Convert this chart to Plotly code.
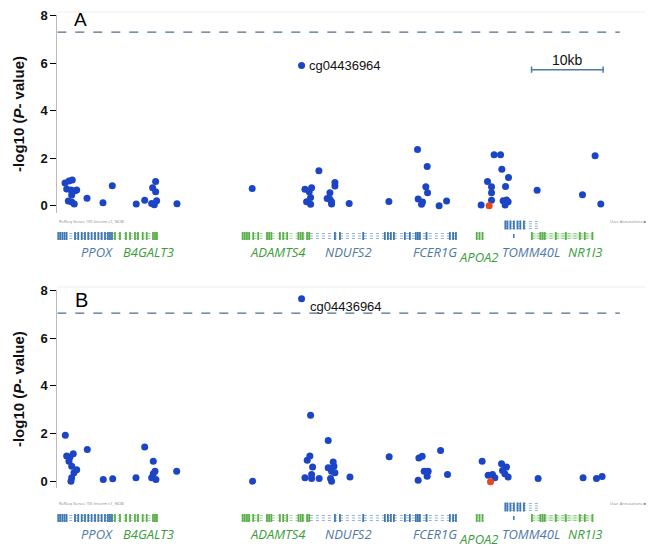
import plotly.graph_objects as go

# ---------------- data (position in kb, -log10 P) ----------------
a_x = [1.08, 1.63, 2.09, 1.31, 1.91, 2.47, 2.71, 2.01, 1.54, 2.01, 2.37, 4.15, 7.68, 6.38,
       11.03, 12.21, 13.74, 13.32, 13.74, 13.18, 13.55, 13.88, 16.72, 27.23, 34.13, 36.55,
       34.60, 35.53, 35.20, 35.39, 34.83, 35.39, 38.79, 38.79, 38.09, 37.71, 38.09, 38.32,
       38.32, 40.78, 46.33, 50.33, 51.68, 51.49, 51.73, 50.42, 51.03, 50.89, 53.35, 54.39,
       61.03, 61.93, 62.11, 63.04, 60.11, 60.67, 62.63, 60.67, 60.67, 62.29, 62.77, 62.99,
       62.57, 59.22, 67.04, 75.14, 73.38, 75.94]
a_y = [0.96, 1.04, 1.08, 0.70, 0.66, 0.63, 0.66, 0.45, 0.20, 0.16, 0.07, 0.32, 0.84, 0.13,
       0.07, 0.23, 1.02, 0.76, 0.59, 0.10, 0.04, 0.21, 0.08, 0.73, 5.90, 1.47,
       0.69, 0.76, 0.59, 0.35, 0.17, 0.06, 0.98, 0.83, 0.55, 0.31, 0.27, 0.17,
       0.07, 0.10, 0.18, 2.37, 1.65, 0.80, 0.55, 0.28, 0.16, 0.06, 0.00, 0.20,
       2.14, 2.14, 1.54, 1.19, 1.02, 0.80, 0.81, 0.55, 0.23, 0.21, 0.24, 0.17,
       0.03, 0.03, 0.65, 2.10, 0.46, 0.07]
a_red_x = [60.34]
a_red_y = [0.00]

b_x = [1.12, 1.31, 1.77, 2.23, 1.63, 2.01, 2.71, 2.33, 2.01, 1.91, 4.19, 6.42, 7.74, 10.99,
       12.21, 13.41, 13.65, 13.41, 13.18, 13.78, 16.68, 27.29, 34.13, 35.39, 35.29, 34.92,
       35.67, 35.53, 34.60, 35.53, 36.59, 37.85, 37.85, 38.55, 38.65, 38.32, 38.79, 38.18,
       38.32, 40.89, 46.37, 50.52, 50.98, 53.55, 51.26, 51.82, 51.68, 50.42, 54.52, 59.36,
       62.07, 62.77, 62.21, 62.53, 62.99, 60.20, 60.81, 61.13, 67.18, 73.46, 75.33, 76.12]
b_y = [1.93, 1.05, 1.01, 1.15, 0.84, 0.63, 0.48, 0.35, 0.14, 0.00, 1.33, 0.07, 0.10, 0.14,
       1.43, 0.84, 0.42, 0.31, 0.14, 0.07, 0.42, 0.00, 7.65, 2.77, 1.05, 0.88,
       0.59, 0.28, 0.14, 0.11, 0.11, 1.71, 0.56, 0.80, 0.63, 0.42, 0.35, 0.11,
       0.00, 0.17, 1.02, 0.97, 1.04, 1.29, 0.42, 0.42, 0.21, 0.04, 0.28, 0.84,
       0.73, 0.59, 0.45, 0.31, 0.17, 0.25, 0.28, 0.14, 0.11, 0.14, 0.11, 0.20]
b_red_x = [60.53]
b_red_y = [-0.03]

thresholds = [7.3, 7.05]
top_probe = "cg04436964"
top_probe_x = [34.13, 34.13]
top_probe_y = [5.90, 7.65]
y_ticks = [0, 2, 4, 6, 8]
scale_bar_kb = [66.26, 76.26]

# gene models (kb)
gene_names = ["PPOX", "B4GALT3", "ADAMTS4", "NDUFS2", "FCER1G", "APOA2", "TOMM40L", "NR1I3"]
gene_kind = ["b", "g", "g", "b", "b", "g", "b", "g"]
gene_start = [0.0, 7.6, 25.75, 35.29, 51.07, 58.5, 62.53, 66.26]
gene_end = [7.8, 14.1, 35.29, 51.07, 55.8, 59.6, 67.42, 74.86]
gene_exons = [
    [0.1, 0.4, 0.7, 1.0, 1.3, 2.47, 2.93, 3.41, 3.87, 4.33, 4.80, 5.27, 5.73, 6.20, 6.66, 7.08, 7.36, 7.64],
    [8.06, 8.76, 9.6, 10.16, 10.85, 11.27, 11.93, 12.49, 13.37, 13.65, 13.92],
    [25.9, 26.2, 26.5, 26.8, 27.37, 28.07, 29.3, 29.6, 29.9, 31.1, 31.56, 32.12, 33.7, 34.0, 34.3, 34.9, 35.2],
    [38.79, 39.49, 42.74, 45.77, 46.19, 46.61, 47.03, 48.56, 49.26, 50.1, 50.38, 50.66],
    [51.59, 54.85, 55.3, 55.7],
    [58.6, 59.0, 59.4],
    [62.6, 62.9, 63.3, 63.8, 64.3, 64.7, 65.2],
    [66.3, 67.5, 67.8, 68.1, 69.65, 71.05, 73.0, 73.7, 74.77],
]
gene_label_x = [5.55, 12.8, 30.82, 40.74, 52.75, 58.9, 66.16, 73.7]
gene_label_low = [False, False, False, False, False, True, False, False]
gene_stacked = [False, False, False, False, False, False, True, False]

# ---------------- styling ----------------
BLUE_PT = "#1c45c6"
RED_PT = "#e4481c"
GENE_COL = {"b": "#3d78b4", "g": "#5ab04a"}
LABEL_COL = {"b": "#4f78a8", "g": "#3a9c3a"}
DASH_COL = "#4d6f90"
X_RANGE = [0, 78.9]
X_DOMAIN = [57.3 / 649, 622 / 649]

H = 547.0
def pdom(top_px, bot_px):
    return [1 - bot_px / H, 1 - top_px / H]

fig = go.Figure()

panels = [
    dict(x=a_x, y=a_y, rx=a_red_x, ry=a_red_y, xa="x", ya="y", gx="x2", gy="y2",
         dom=pdom(15, 212.9), gdom=pdom(215, 265), thr=thresholds[0],
         px=top_probe_x[0], py=top_probe_y[0]),
    dict(x=b_x, y=b_y, rx=b_red_x, ry=b_red_y, xa="x3", ya="y3", gx="x4", gy="y4",
         dom=pdom(290, 488.3), gdom=pdom(497, 547), thr=thresholds[1],
         px=top_probe_x[1], py=top_probe_y[1]),
]

annotations = []
shapes = []

for k, p in enumerate(panels):
    fig.add_trace(go.Scatter(x=[0, 78.6], y=[p["thr"], p["thr"]], mode="lines",
                             line=dict(color=DASH_COL, width=1.2, dash="dash"),
                             xaxis=p["xa"], yaxis=p["ya"], hoverinfo="skip", showlegend=False))
    fig.add_trace(go.Scatter(x=p["x"], y=p["y"], mode="markers",
                             marker=dict(color=BLUE_PT, size=7),
                             xaxis=p["xa"], yaxis=p["ya"], showlegend=False))
    fig.add_trace(go.Scatter(x=p["rx"], y=p["ry"], mode="markers",
                             marker=dict(color=RED_PT, size=7),
                             xaxis=p["xa"], yaxis=p["ya"], showlegend=False))
    if k == 0:
        annotations.append(dict(x=p["px"] + 0.75, y=p["py"], xref=p["xa"], yref=p["ya"],
                                text=top_probe, showarrow=False, xanchor="left",
                                font=dict(size=13, family="Liberation Sans", color="#111")))
    else:
        annotations.append(dict(x=p["px"] + 0.85, y=p["thr"] + 0.28, xref=p["xa"], yref=p["ya"],
                                text=top_probe, showarrow=False, xanchor="left",
                                font=dict(size=13, family="Liberation Sans", color="#111")))

    for i, name in enumerate(gene_names):
        col = GENE_COL[gene_kind[i]]
        cy = 40 if gene_stacked[i] else 29
        rows = [cy - 3.5, cy - 1.2, cy + 1.2, cy + 3.5] if gene_stacked[i] else [cy - 2.5, cy, cy + 2.5]
        if name == "NR1I3":
            fig.add_trace(go.Scatter(x=[gene_start[i], gene_end[i], gene_end[i], gene_start[i], gene_start[i]],
                                     y=[cy - 3, cy - 3, cy + 3, cy + 3, cy - 3], mode="lines",
                                     fill="toself", fillcolor="rgba(120,180,100,0.22)",
                                     line=dict(width=0), xaxis=p["gx"], yaxis=p["gy"],
                                     hoverinfo="skip", showlegend=False))
        lx, ly = [], []
        for r in rows:
            lx += [gene_start[i], gene_end[i], None]
            ly += [r, r, None]
        fig.add_trace(go.Scatter(x=lx, y=ly, mode="lines",
                                 line=dict(color=col, width=0.7, dash="dot"), opacity=0.8,
                                 xaxis=p["gx"], yaxis=p["gy"], hoverinfo="skip", showlegend=False))
        ex, ey = [], []
        h = 4.5 if gene_stacked[i] else 4
        for e in gene_exons[i]:
            ex += [e, e, None]
            ey += [cy - h, cy + h, None]
        fig.add_trace(go.Scatter(x=ex, y=ey, mode="lines", line=dict(color=col, width=1.8),
                                 xaxis=p["gx"], yaxis=p["gy"], hoverinfo="skip", showlegend=False))
        annotations.append(dict(x=gene_label_x[i], y=8.5 if gene_label_low[i] else 13.5,
                                xref=p["gx"], yref=p["gy"], text="<i>%s</i>" % name,
                                showarrow=False, font=dict(size=13, family="Open Sans",
                                                           color=LABEL_COL[gene_kind[i]])))
    fig.add_trace(go.Scatter(x=[63.78, 63.78], y=[27, 31], mode="lines",
                             line=dict(color=GENE_COL["b"], width=1.5),
                             xaxis=p["gx"], yaxis=p["gy"], hoverinfo="skip", showlegend=False))
    annotations.append(dict(x=0, y=44, xref=p["gx"], yref=p["gy"], xanchor="left",
                            text="RefSeq Genes 105 Interim v1, NCBI", showarrow=False,
                            font=dict(size=4, color="#888")))
    annotations.append(dict(x=77.0, y=44, xref=p["gx"], yref=p["gy"], xanchor="left",
                            text="User Annotations \u25a0", showarrow=False,
                            font=dict(size=4, color="#888")))

sb_y = 5.72
fig.add_trace(go.Scatter(x=[scale_bar_kb[0], scale_bar_kb[1], None, scale_bar_kb[0], scale_bar_kb[0], None,
                            scale_bar_kb[1], scale_bar_kb[1]],
                         y=[sb_y, sb_y, None, sb_y - 0.13, sb_y + 0.13, None, sb_y - 0.13, sb_y + 0.13],
                         mode="lines", line=dict(color="#4a7aa8", width=1.5),
                         xaxis="x", yaxis="y", hoverinfo="skip", showlegend=False))
annotations.append(dict(x=(scale_bar_kb[0] + scale_bar_kb[1]) / 2, y=6.12, xref="x", yref="y",
                        text="10kb", showarrow=False,
                        font=dict(size=14, family="Liberation Sans", color="#111")))

annotations.append(dict(x=80.5 / 649, y=1 - 19.5 / H, xref="paper", yref="paper", text="A",
                        xanchor="center", yanchor="middle", showarrow=False,
                        font=dict(size=19, family="Liberation Sans", color="#000")))
annotations.append(dict(x=81 / 649, y=1 - 299.5 / H, xref="paper", yref="paper", text="B",
                        xanchor="center", yanchor="middle", showarrow=False,
                        font=dict(size=20, family="Liberation Sans", color="#000")))

for ypx in [12, 287]:
    shapes.append(dict(type="line", xref="paper", yref="paper", x0=57 / 649, x1=645 / 649,
                       y0=1 - ypx / H, y1=1 - ypx / H, line=dict(color="#eeeeee", width=1)))

yax = dict(range=[-0.3, 8.02], tickvals=y_ticks, ticks="outside", ticklen=6, tickwidth=1,
           tickcolor="#000", showline=True, linecolor="#bbbbbb", linewidth=1, showgrid=False,
           zeroline=False, automargin=False,
           tickfont=dict(size=13, family="Liberation Sans", color="#111", weight="bold"),
           title=dict(text="-log10 (<i>P</i>- value)", standoff=12,
                      font=dict(size=15, family="Liberation Sans", color="#111", weight="bold")))
xax = dict(range=X_RANGE, domain=X_DOMAIN, visible=False, showgrid=False, zeroline=False,
           automargin=False)
gyax = dict(range=[0, 50], visible=False, showgrid=False, zeroline=False, automargin=False)

fig.update_layout(
    width=649, height=547, margin=dict(l=0, r=0, t=0, b=0, autoexpand=False),
    paper_bgcolor="white", plot_bgcolor="white", showlegend=False,
    xaxis=dict(xax, anchor="y"), yaxis=dict(yax, domain=panels[0]["dom"], anchor="x"),
    xaxis2=dict(xax, anchor="y2"), yaxis2=dict(gyax, domain=panels[0]["gdom"], anchor="x2"),
    xaxis3=dict(xax, anchor="y3"), yaxis3=dict(yax, domain=panels[1]["dom"], anchor="x3"),
    xaxis4=dict(xax, anchor="y4"), yaxis4=dict(gyax, domain=panels[1]["gdom"], anchor="x4"),
    annotations=annotations, shapes=shapes,
)

fig.write_html("out.html", config={"displayModeBar": False},
               post_script="document.body.style.margin='0px';document.body.style.overflow='hidden';")
